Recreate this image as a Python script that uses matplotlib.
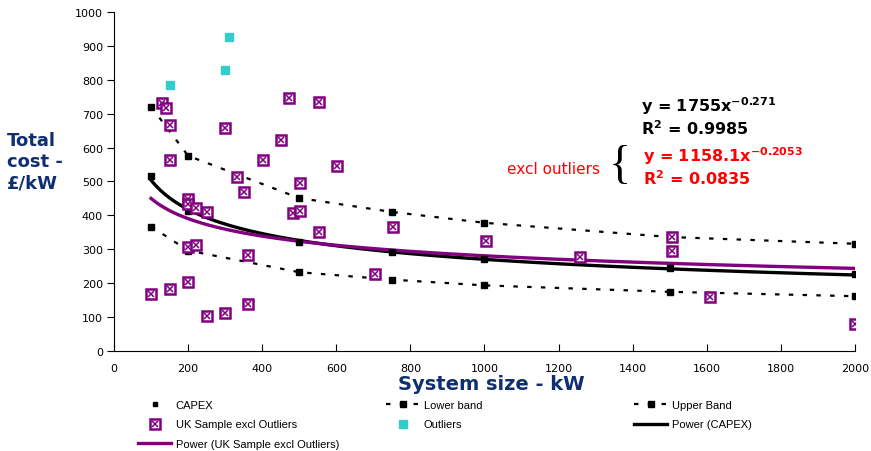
import numpy as np
import matplotlib
matplotlib.use("Agg")
import matplotlib.pyplot as plt
from matplotlib.lines import Line2D

# ─────────────────────────────
# DATA
# ─────────────────────────────
band_x = [100, 200, 500, 750, 1000, 1500, 2000]
capex_y = [515, 413, 321, 292, 270, 245, 228]
lower_y = [367, 296, 232, 210, 193, 174, 161]
upper_y = [721, 576, 451, 410, 378, 336, 316]

uk_x = [100, 130, 140, 150, 150, 150, 200, 200, 200, 200, 222, 222, 250, 250,
        300, 300, 331, 351, 361, 361, 401, 450, 472, 482, 502, 502, 553, 553,
        602, 704, 754, 1005, 1257, 1507, 1507, 1608, 2000]
uk_y = [167, 733, 717, 666, 564, 182, 448, 433, 306, 202, 421, 313, 409, 102,
        658, 112, 512, 468, 284, 138, 564, 623, 746, 407, 495, 414, 736, 351,
        546, 228, 365, 324, 277, 336, 294, 159, 78]

outlier_x = [150, 300, 311]
outlier_y = [785, 829, 926]

# power trendlines: y = a * x^b
capex_fit = (1755.0, -0.271, 0.9985)
uk_fit = (1158.1, -0.2053, 0.0835)
fit_range = (100, 2000)

NAVY = "#0f2f72"
PURPLE = "#800080"
CYAN = "#33cccc"
RED = "#ff0000"

# ─────────────────────────────
# FIGURE
# ─────────────────────────────
fig = plt.figure(figsize=(8.71, 4.52), dpi=100)
ax = fig.add_axes([0.1309, 0.2219, 0.8507, 0.7487])

band_style = dict(color="black", linewidth=1.6, linestyle=(0, (2, 4.2)),
                  marker="s", markersize=4.5)
ax.plot(band_x, lower_y, **band_style, zorder=3)
ax.plot(band_x, upper_y, **band_style, zorder=3)

xx = np.linspace(fit_range[0], fit_range[1], 300)
ax.plot(xx, capex_fit[0] * xx ** capex_fit[1], color="black", linewidth=2.4, zorder=4)
ax.plot(xx, uk_fit[0] * xx ** uk_fit[1], color=PURPLE, linewidth=2.4, zorder=4)

ax.plot(band_x, capex_y, linestyle="none", marker="s", markersize=4,
        color="black", zorder=5)

ax.plot(uk_x, uk_y, linestyle="none", marker="s", markersize=7,
        markerfacecolor="white", markeredgecolor=PURPLE, markeredgewidth=1.8, zorder=6)
ax.plot(uk_x, uk_y, linestyle="none", marker="x", markersize=4,
        markeredgecolor=PURPLE, markeredgewidth=1.1, zorder=7)

ax.plot(outlier_x, outlier_y, linestyle="none", marker="s", markersize=6.3,
        color=CYAN, zorder=6)

# ─────────────────────────────
# AXES
# ─────────────────────────────
ax.set_xlim(0, 2000)
ax.set_ylim(0, 1000)
ax.set_xticks(np.arange(0, 2001, 200))
ax.set_yticks(np.arange(0, 1001, 100))
ax.spines["top"].set_visible(False)
ax.spines["right"].set_visible(False)
ax.tick_params(axis="y", direction="out", length=5, pad=3, labelsize=8)
ax.tick_params(axis="x", direction="in", length=5, pad=9, labelsize=8)

ax.set_xlabel("System size - kW", fontsize=14, fontweight="bold", color=NAVY)
ax.xaxis.set_label_coords(0.509, -0.068)
ax.set_ylabel("Total\ncost -\n£/kW", fontsize=13, fontweight="bold", color=NAVY,
              rotation=0, ha="left", va="center", multialignment="left",
              linespacing=1.25)
ax.yaxis.set_label_coords(-0.145, 0.56)

# ─────────────────────────────
# TRENDLINE LABELS
# ─────────────────────────────
ax.text(1422, 727, "y = %gx$^{\\mathbf{%g}}$" % (capex_fit[0], capex_fit[1]),
        fontsize=11.5, fontweight="bold", va="center", ha="left")
ax.text(1422, 659, "R$^{\\mathbf{2}}$ = %g" % capex_fit[2],
        fontsize=11.5, fontweight="bold", va="center", ha="left")
ax.text(1428, 577, "y = %gx$^{\\mathbf{%g}}$" % (uk_fit[0], uk_fit[1]),
        fontsize=11.5, fontweight="bold", va="center", ha="left", color=RED)
ax.text(1428, 512, "R$^{\\mathbf{2}}$ = %g" % uk_fit[2],
        fontsize=11.5, fontweight="bold", va="center", ha="left", color=RED)
ax.text(1061, 537, "excl outliers", fontsize=11, color=RED, va="center", ha="left")
ax.text(1365, 546, "{", fontsize=33, family="Liberation Serif", va="center",
        ha="center", color="black")

# ─────────────────────────────
# LEGEND (three columns, Excel style)
# ─────────────────────────────
h_capex = Line2D([], [], linestyle="none", marker="s", markersize=3.5, color="black")
h_band = Line2D([], [], **band_style)
h_uk = (Line2D([], [], linestyle="none", marker="s", markersize=7,
               markerfacecolor="white", markeredgecolor=PURPLE, markeredgewidth=1.8),
        Line2D([], [], linestyle="none", marker="x", markersize=4,
               markeredgecolor=PURPLE, markeredgewidth=1.1))
h_out = Line2D([], [], linestyle="none", marker="s", markersize=6.3, color=CYAN)
h_pcapex = Line2D([], [], color="black", linewidth=2.4)
h_puk = Line2D([], [], color=PURPLE, linewidth=2.4)

columns = [
    (138, [h_capex, h_uk, h_puk], ["CAPEX", "UK Sample excl Outliers",
                                   "Power (UK Sample excl Outliers)"]),
    (386, [h_band, h_out], ["Lower band", "Outliers"]),
    (634, [h_band, h_pcapex], ["Upper Band", "Power (CAPEX)"]),
]
for x_px, handles, labels in columns:
    fig.legend(handles, labels, loc="upper left",
               bbox_to_anchor=(x_px / 871, 1 - 401 / 452),
               frameon=False, borderpad=0, borderaxespad=0,
               handlelength=3.0, handletextpad=0.4, labelspacing=0.85,
               prop={"family": "Liberation Sans", "size": 8})

plt.savefig("out.png", dpi=100)
plt.close()
